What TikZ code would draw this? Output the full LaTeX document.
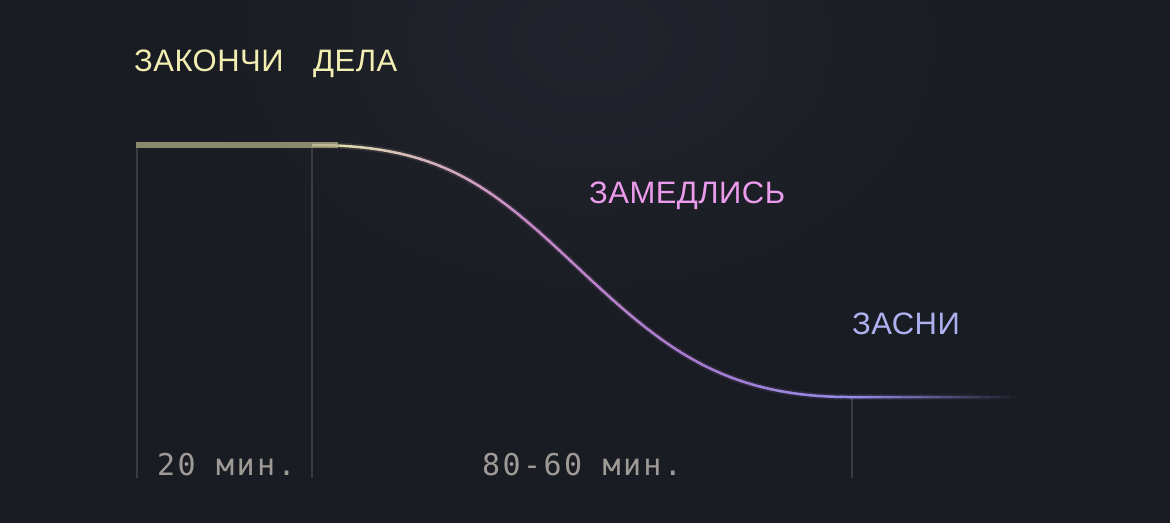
\documentclass[tikz,border=0pt]{standalone}
\usepackage{fontspec}
\setmainfont{Liberation Sans}
\newfontfamily\capsfont[LetterSpace=1.5]{Liberation Sans}
\newfontfamily\monofont[LetterSpace=8]{DejaVu Sans Mono}
\definecolor{bg}{HTML}{1A1C23}
\definecolor{bgglow}{HTML}{22242D}
\definecolor{olive}{HTML}{8B896D}
\definecolor{cA}{HTML}{E2DDB0}
\definecolor{cB}{HTML}{C98BC6}
\definecolor{cC}{HTML}{A87AD0}
\definecolor{cD}{HTML}{958DEA}
\definecolor{tickc}{HTML}{3B3C41}
\definecolor{yellowtxt}{HTML}{F3EEB2}
\definecolor{pinktxt}{HTML}{EC9CEC}
\definecolor{lavtxt}{HTML}{AEB0F0}
\definecolor{graytxt}{HTML}{9E9A96}
\tikzset{
  tick/.style={draw=tickc, line width=2pt},
  lbl/.style={anchor=base west, inner sep=0pt, font=\capsfont\fontsize{31}{36}\selectfont},
  mono/.style={anchor=base west, inner sep=0pt, text=graytxt, font=\monofont\fontsize{30}{36}\selectfont},
}
\newcommand{\sleepcurve}{(312,145) .. controls (440,145) and (490,185) .. (575,265) .. controls (660,345) and (720,397) .. (850,397) -- (1020,397)}
\begin{document}
\begin{tikzpicture}[x=1pt,y=-1pt]
\useasboundingbox (0,0) rectangle (1170,523);
\fill[bg] (0,0) rectangle (1170,523);
\begin{scope}
\clip (0,0) rectangle (1170,523);
\shade[inner color=bgglow, outer color=bg] (590,40) ellipse [x radius=420pt, y radius=300pt];
\end{scope}
% ticks
\draw[tick] (137,145) coordinate (t1) -- (137,478) coordinate (b1);
\draw[tick] (312,145) coordinate (t2) -- (312,478) coordinate (b2);
\draw[tick] (852,397) coordinate (t3) -- (852,478) coordinate (b3);
% flat thick start
\draw[olive, line width=5.5pt] (136,145) -- (338,145);
% gradient curve in strips
\foreach \i in {0,...,72} {
  \pgfmathsetmacro\xa{300+10*\i}
  \pgfmathsetmacro\xm{\xa+5}
  \ifdim\xm pt<340pt
    \colorlet{cur}{olive!40!cA}
  \else\ifdim\xm pt<520pt
    \pgfmathtruncatemacro\p{(520-\xm)/1.8}
    \colorlet{cur}{cA!\p!cB}
  \else\ifdim\xm pt<690pt
    \pgfmathtruncatemacro\p{(690-\xm)/1.7}
    \colorlet{cur}{cB!\p!cC}
  \else\ifdim\xm pt<860pt
    \pgfmathtruncatemacro\p{(860-\xm)/1.7}
    \colorlet{cur}{cC!\p!cD}
  \else
    \pgfmathtruncatemacro\p{max(0,min(100,(1020-\xm)/1.6))}
    \colorlet{cur}{cD!\p!bg}
  \fi\fi\fi\fi
  \begin{scope}
    \clip (\xa,100) rectangle (\xa+10.6,420);
    \draw[cur, line width=6pt, opacity=0.12] \sleepcurve;
    \draw[cur, line width=2.5pt] \sleepcurve;
  \end{scope}
}
% labels
\node[lbl, text=yellowtxt] (finish) at (134,71) {\makebox[179pt][l]{ЗАКОНЧИ}ДЕЛА};
\node[lbl, text=pinktxt] (slow) at (589,203) {ЗАМЕДЛИСЬ};
\node[lbl, text=lavtxt] (sleep) at (852,334) {ЗАСНИ};
\node[mono] (m20) at (157,475) {20 мин.};
\node[mono] (m80) at (482,475) {80-60 мин.};
\end{tikzpicture}
\end{document}
